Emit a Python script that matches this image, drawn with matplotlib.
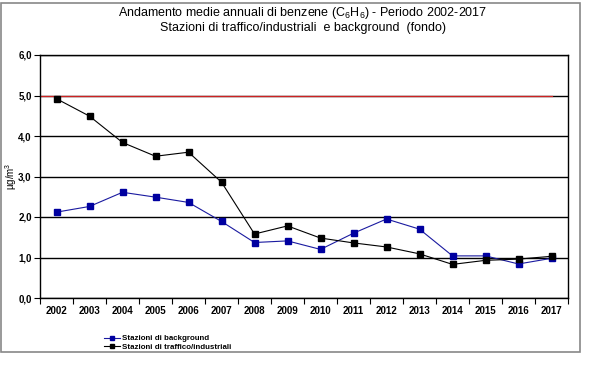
import numpy as np
from matplotlib import pyplot as plt
from matplotlib.patches import Rectangle
from matplotlib import font_manager

years = [str(y) for y in range(2002, 2018)]
background = [2.12, 2.26, 2.61, 2.49, 2.36, 1.89, 1.37, 1.41, 1.20, 1.60,
              1.95, 1.70, 1.04, 1.04, 0.84, 0.98]
traffico = [4.92, 4.49, 3.84, 3.50, 3.60, 2.86, 1.58, 1.78, 1.48, 1.36,
            1.26, 1.09, 0.83, 0.93, 0.96, 1.03]
limite = 5.0

plt.rcParams['font.family'] = ['Liberation Sans', 'DejaVu Sans']
plt.rcParams['mathtext.fontset'] = 'custom'
plt.rcParams['mathtext.rm'] = 'Liberation Sans'
plt.rcParams['mathtext.bf'] = 'Liberation Sans:bold'

names = set(f.name for f in font_manager.fontManager.ttflist)
narrow = 'Liberation Sans Narrow' if 'Liberation Sans Narrow' in names else 'Liberation Sans'

fig = plt.figure(figsize=(6.05, 3.65), dpi=100)
fig.patches.append(Rectangle((1 / 605, 1 - 352 / 365), 579 / 605, 349 / 365,
                             transform=fig.transFigure, fill=False,
                             edgecolor='#888888', linewidth=1.2))

ax = fig.add_axes([40 / 605, 1 - 298 / 365, 528 / 605, 243 / 365])
x = np.arange(len(years))

ax.plot([-0.5, len(years) - 1], [limite, limite], color='#cc2222', linewidth=0.9)
ax.plot(x, background, color='#1a1aa0', linewidth=0.8, marker='s',
        markersize=5, markerfacecolor='#0000a0', markeredgecolor='#0000a0',
        label='Stazioni di background')
ax.plot(x, traffico, color='black', linewidth=0.8, marker='s',
        markersize=5, label='Stazioni di traffico/industriali')

ax.set_xlim(-0.5, len(years) - 0.5)
ax.set_ylim(0, 6)
ax.set_yticks(np.arange(0, 7, 1))
ax.yaxis.set_major_formatter(plt.FuncFormatter(lambda v, p: ('%.1f' % v).replace('.', ',')))
ax.set_xticks(x)
ax.set_xticklabels(years)
ax.set_xticks(np.arange(-0.5, len(years), 1), minor=True)
ax.tick_params(axis='x', which='major', length=0, pad=6)
ax.tick_params(axis='x', which='minor', length=4, direction='out', width=0.8)
ax.tick_params(axis='y', length=4, direction='out', width=0.8, pad=2)
for lbl in ax.get_xticklabels() + ax.get_yticklabels():
    lbl.set_fontsize(7)
    lbl.set_fontweight('bold')

ax.grid(axis='y', color='black', linewidth=1)
ax.set_axisbelow(True)
for s in ax.spines.values():
    s.set_linewidth(1)
    s.set_color('black')

fig.text(11 / 605, 1 - 176 / 365, 'µg/m$^3$', rotation=90, ha='center', va='center',
         fontsize=7)

fig.text(0.5, 1 - 13 / 365, 'Andamento medie annuali di benzene (C$_6$H$_6$) - Periodo 2002-2017',
         ha='center', va='center', fontsize=9)
fig.text(0.5, 1 - 28 / 365, 'Stazioni di traffico/industriali  e background  (fondo)',
         ha='center', va='center', fontsize=9)

leg = fig.legend(loc='upper left', bbox_to_anchor=(100 / 605, 1 - 331 / 365),
                 frameon=False, handlelength=2.0, handletextpad=0.3,
                 labelspacing=0.1, borderpad=0,
                 prop={'family': narrow, 'weight': 'bold', 'size': 5.7})
for h in leg.legend_handles:
    h.set_markersize(3.5)

fig.savefig('out.png', dpi=100)
